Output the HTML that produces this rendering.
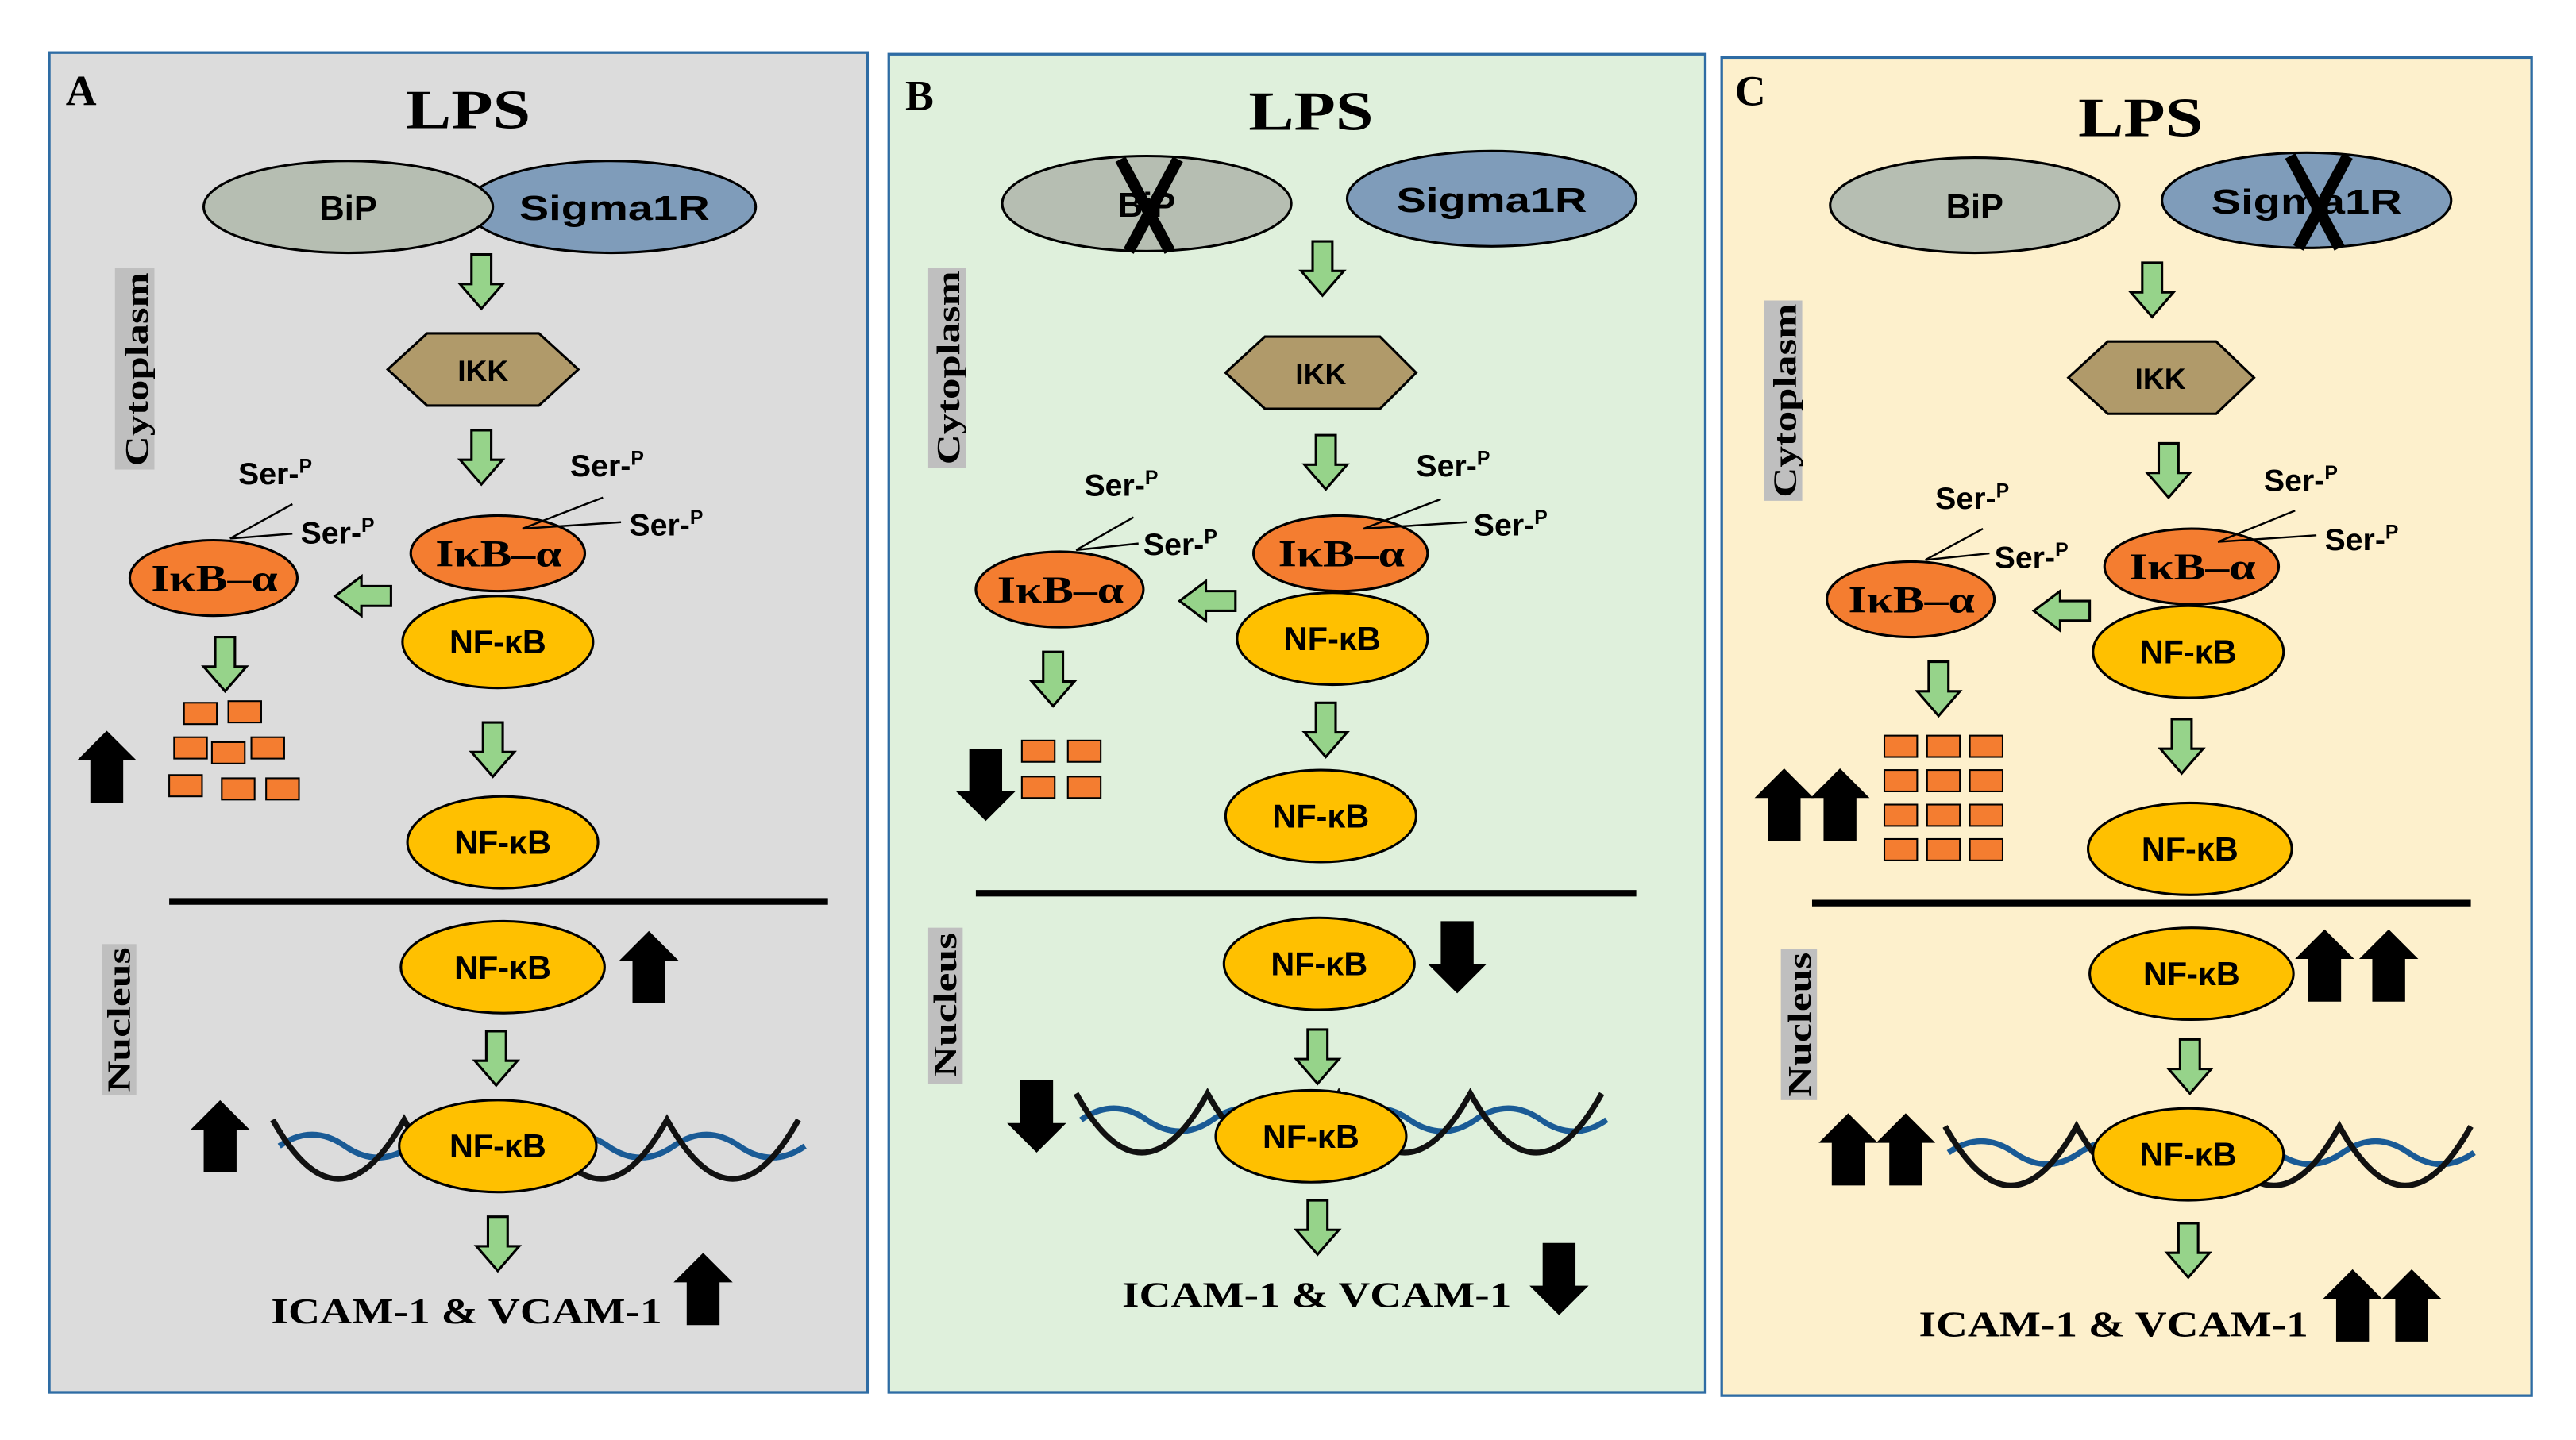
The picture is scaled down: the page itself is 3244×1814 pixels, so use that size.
<!DOCTYPE html>
<html><head><meta charset="utf-8"><style>
html,body{margin:0;padding:0;background:#fff;}
svg{display:block;}
.sans{font-family:"Liberation Sans","DejaVu Sans",sans-serif;font-weight:bold;}
.ser{font-family:"Liberation Serif","DejaVu Serif",serif;font-weight:bold;}
</style></head><body>
<svg width="3244" height="1814" viewBox="0 0 1568 877" preserveAspectRatio="none" xmlns="http://www.w3.org/2000/svg">
<defs>
<path id="gd" d="M-6,0 H6 V18 H13 L0,33 L-13,18 H-6 Z" fill="#96d38a" stroke="#000" stroke-width="1.5"/>
<path id="gl" d="M0,-6 V-12 L-16,0 L0,12 V6 H18 V-6 Z" fill="#96d38a" stroke="#000" stroke-width="1.5"/>
<path id="bu" d="M0,0 L18,18 H10 V44 H-10 V18 H-18 Z" fill="#000"/>
<path id="bd" d="M0,44 L18,26 H10 V0 H-10 V26 H-18 Z" fill="#000"/>
<rect id="br" width="20" height="13" fill="#f47d30" stroke="#000" stroke-width="1"/>
<path id="blk" d="M0,-18 q20,36 40,36 q20,0 40,-36 q20,36 40,36 q20,0 40,-36 q20,36 40,36 q20,0 40,-36 q20,36 40,36 q20,0 40,-36" fill="none" stroke="#111" stroke-width="3.5"/>
<path id="blu" d="M0,-4 q20,-14 40,0 t40,0 t40,0 t40,0 t40,0 t40,0 t40,0 t40,0" fill="none" stroke="#1a5b96" stroke-width="3.5"/>
</defs>
<rect width="1568" height="877" fill="#fff"/>
<rect x="30" y="32" width="498" height="816" fill="#dcdcdc" stroke="#2e6ca4" stroke-width="1.6"/>
<rect x="541" y="33" width="497" height="815" fill="#dff0dc" stroke="#2e6ca4" stroke-width="1.6"/>
<rect x="1048" y="35" width="493" height="815" fill="#fdf0cc" stroke="#2e6ca4" stroke-width="1.6"/>

<g stroke="#000" stroke-width="1.5">
<ellipse cx="372" cy="126" rx="88" ry="28" fill="#7f9cba"/>
<ellipse cx="212" cy="126" rx="88" ry="28" fill="#b6beb2"/>
<polygon points="236,225 260,203 328,203 352,225 328,247 260,247" fill="#b09a6a"/>
<ellipse cx="303" cy="337" rx="53" ry="23" fill="#f47d30"/>
<ellipse cx="303" cy="391" rx="58" ry="28" fill="#ffc000"/>
<ellipse cx="130" cy="352" rx="51" ry="23" fill="#f47d30"/>
<ellipse cx="306" cy="513" rx="58" ry="28" fill="#ffc000"/>
<ellipse cx="306" cy="589" rx="62" ry="28" fill="#ffc000"/>
<ellipse cx="698" cy="124" rx="88" ry="29" fill="#b6beb2"/>
<ellipse cx="908" cy="121" rx="88" ry="29" fill="#7f9cba"/>
<polygon points="746,227 770,205 840,205 862,227 840,249 770,249" fill="#b09a6a"/>
<ellipse cx="816" cy="337" rx="53" ry="23" fill="#f47d30"/>
<ellipse cx="811" cy="389" rx="58" ry="28" fill="#ffc000"/>
<ellipse cx="645" cy="359" rx="51" ry="23" fill="#f47d30"/>
<ellipse cx="804" cy="497" rx="58" ry="28" fill="#ffc000"/>
<ellipse cx="803" cy="587" rx="58" ry="28" fill="#ffc000"/>
<ellipse cx="1202" cy="125" rx="88" ry="29" fill="#b6beb2"/>
<ellipse cx="1404" cy="122" rx="88" ry="29" fill="#7f9cba"/>
<polygon points="1259,230 1283,208 1349,208 1372,230 1349,252 1283,252" fill="#b09a6a"/>
<ellipse cx="1334" cy="345" rx="53" ry="23" fill="#f47d30"/>
<ellipse cx="1332" cy="397" rx="58" ry="28" fill="#ffc000"/>
<ellipse cx="1163" cy="365" rx="51" ry="23" fill="#f47d30"/>
<ellipse cx="1333" cy="517" rx="62" ry="28" fill="#ffc000"/>
<ellipse cx="1334" cy="593" rx="62" ry="28" fill="#ffc000"/>
</g>

<g stroke="#000" stroke-width="1.2" fill="none">
<path d="M318,322 L367,303 M318,322 L378,318"/>
<path d="M140,328 L178,307 M140,328 L178,325"/>
<path d="M830,322 L877,304 M830,322 L893,318"/>
<path d="M655,335 L690,315 M655,335 L693,331"/>
<path d="M1350,330 L1397,311 M1350,330 L1410,326"/>
<path d="M1172,341 L1207,322 M1172,341 L1211,337"/>
</g>

<g stroke="#000" stroke-width="4">
<line x1="103" y1="549" x2="504" y2="549"/>
<line x1="594" y1="544" x2="996" y2="544"/>
<line x1="1103" y1="550" x2="1504" y2="550"/>
</g>

<use href="#blu" transform="translate(170,702)"/>
<use href="#blk" transform="translate(166,700)"/>
<use href="#blu" transform="translate(658,686)"/>
<use href="#blk" transform="translate(655,684)"/>
<use href="#blu" transform="translate(1186,706)"/>
<use href="#blk" transform="translate(1184,704)"/>

<g stroke="#000" stroke-width="1.5" fill="#ffc000">
<ellipse cx="303" cy="698" rx="60" ry="28"/>
<ellipse cx="798" cy="692" rx="58" ry="28"/>
<ellipse cx="1332" cy="703" rx="58" ry="28"/>
</g>

<use href="#gd" x="293" y="155"/><use href="#gd" x="293" y="262"/>
<use href="#gd" x="137" y="388"/><use href="#gd" x="300" y="440"/>
<use href="#gd" x="302" y="628"/><use href="#gd" x="303" y="741"/>
<use href="#gl" x="220" y="363"/>
<use href="#gd" x="805" y="147"/><use href="#gd" x="807" y="265"/>
<use href="#gd" x="641" y="397"/><use href="#gd" x="807" y="428"/>
<use href="#gd" x="802" y="627"/><use href="#gd" x="802" y="731"/>
<use href="#gl" x="734" y="366"/>
<use href="#gd" x="1310" y="160"/><use href="#gd" x="1320" y="270"/>
<use href="#gd" x="1180" y="403"/><use href="#gd" x="1328" y="438"/>
<use href="#gd" x="1333" y="633"/><use href="#gd" x="1332" y="745"/>
<use href="#gl" x="1254" y="372"/>

<use href="#br" x="112" y="428"/><use href="#br" x="139" y="427"/>
<use href="#br" x="106" y="449"/><use href="#br" x="129" y="452"/><use href="#br" x="153" y="449"/>
<use href="#br" x="103" y="472"/><use href="#br" x="135" y="474"/><use href="#br" x="162" y="474"/>
<use href="#br" x="622" y="451"/><use href="#br" x="650" y="451"/>
<use href="#br" x="622" y="473"/><use href="#br" x="650" y="473"/>
<use href="#br" x="1147" y="448"/><use href="#br" x="1173" y="448"/><use href="#br" x="1199" y="448"/>
<use href="#br" x="1147" y="469"/><use href="#br" x="1173" y="469"/><use href="#br" x="1199" y="469"/>
<use href="#br" x="1147" y="490"/><use href="#br" x="1173" y="490"/><use href="#br" x="1199" y="490"/>
<use href="#br" x="1147" y="511"/><use href="#br" x="1173" y="511"/><use href="#br" x="1199" y="511"/>

<use href="#bu" x="65" y="445"/><use href="#bu" x="395" y="567"/>
<use href="#bu" x="134" y="670"/><use href="#bu" x="428" y="763"/>
<use href="#bd" x="600" y="456"/><use href="#bd" x="887" y="561"/>
<use href="#bd" x="631" y="658"/><use href="#bd" x="949" y="757"/>
<use href="#bu" x="1086" y="468"/><use href="#bu" x="1120" y="468"/>
<use href="#bu" x="1415" y="566"/><use href="#bu" x="1454" y="566"/>
<use href="#bu" x="1125" y="678"/><use href="#bu" x="1160" y="678"/>
<use href="#bu" x="1432" y="773"/><use href="#bu" x="1468" y="773"/>

<rect x="70" y="163" width="24" height="123" fill="#bfbfbf"/>
<rect x="62" y="575" width="21" height="92" fill="#bfbfbf"/>
<rect x="565" y="163" width="23" height="122" fill="#bfbfbf"/>
<rect x="565" y="565" width="21" height="95" fill="#bfbfbf"/>
<rect x="1074" y="183" width="23" height="122" fill="#bfbfbf"/>
<rect x="1084" y="578" width="22" height="92" fill="#bfbfbf"/>
<g class="ser" font-size="20" text-anchor="middle" fill="#000">
<text transform="translate(90,225) rotate(-90)" textLength="118" lengthAdjust="spacingAndGlyphs">Cytoplasm</text>
<text transform="translate(79,621) rotate(-90)" textLength="88" lengthAdjust="spacingAndGlyphs">Nucleus</text>
<text transform="translate(584,224) rotate(-90)" textLength="118" lengthAdjust="spacingAndGlyphs">Cytoplasm</text>
<text transform="translate(582,612) rotate(-90)" textLength="88" lengthAdjust="spacingAndGlyphs">Nucleus</text>
<text transform="translate(1093,244) rotate(-90)" textLength="118" lengthAdjust="spacingAndGlyphs">Cytoplasm</text>
<text transform="translate(1102,624) rotate(-90)" textLength="88" lengthAdjust="spacingAndGlyphs">Nucleus</text>
</g>

<g class="ser" fill="#000">
<text x="40" y="64" font-size="26">A</text>
<text x="551" y="67" font-size="26">B</text>
<text x="1056" y="64" font-size="26">C</text>
<g font-size="34" text-anchor="middle">
<text x="285" y="78" textLength="76" lengthAdjust="spacingAndGlyphs">LPS</text>
<text x="798" y="79" textLength="76" lengthAdjust="spacingAndGlyphs">LPS</text>
<text x="1303" y="83" textLength="76" lengthAdjust="spacingAndGlyphs">LPS</text>
</g>
<g font-size="22">
<text x="165" y="806" textLength="238" lengthAdjust="spacingAndGlyphs">ICAM-1 &amp; VCAM-1</text>
<text x="683" y="796" textLength="237" lengthAdjust="spacingAndGlyphs">ICAM-1 &amp; VCAM-1</text>
<text x="1168" y="814" textLength="237" lengthAdjust="spacingAndGlyphs">ICAM-1 &amp; VCAM-1</text>
</g>
<g font-size="23">
<text x="265" y="345" textLength="77" lengthAdjust="spacingAndGlyphs">IκB–α</text>
<text x="92" y="360" textLength="77" lengthAdjust="spacingAndGlyphs">IκB–α</text>
<text x="778" y="345" textLength="77" lengthAdjust="spacingAndGlyphs">IκB–α</text>
<text x="607" y="367" textLength="77" lengthAdjust="spacingAndGlyphs">IκB–α</text>
<text x="1296" y="353" textLength="77" lengthAdjust="spacingAndGlyphs">IκB–α</text>
<text x="1125" y="373" textLength="77" lengthAdjust="spacingAndGlyphs">IκB–α</text>
</g>
</g>

<g class="sans" fill="#000" text-anchor="middle">
<g font-size="21">
<text x="212" y="134">BiP</text><text x="374" y="134" textLength="116" lengthAdjust="spacingAndGlyphs">Sigma1R</text>
<text x="698" y="132">BiP</text><text x="908" y="129" textLength="116" lengthAdjust="spacingAndGlyphs">Sigma1R</text>
<text x="1202" y="133">BiP</text><text x="1404" y="130" textLength="116" lengthAdjust="spacingAndGlyphs">Sigma1R</text>
</g>
<g font-size="18">
<text x="294" y="232">IKK</text><text x="804" y="234">IKK</text><text x="1315" y="237">IKK</text>
</g>
<g font-size="20">
<text x="303" y="398">NF-κB</text><text x="306" y="520">NF-κB</text><text x="306" y="596">NF-κB</text><text x="303" y="705">NF-κB</text>
<text x="811" y="396">NF-κB</text><text x="804" y="504">NF-κB</text><text x="803" y="594">NF-κB</text><text x="798" y="699">NF-κB</text>
<text x="1332" y="404">NF-κB</text><text x="1333" y="524">NF-κB</text><text x="1334" y="600">NF-κB</text><text x="1332" y="710">NF-κB</text>
</g>
</g>
<g class="sans" font-size="19" fill="#000">
<text x="145" y="295">Ser-<tspan font-size="12" dy="-7">P</tspan></text>
<text x="183" y="331">Ser-<tspan font-size="12" dy="-7">P</tspan></text>
<text x="347" y="290">Ser-<tspan font-size="12" dy="-7">P</tspan></text>
<text x="383" y="326">Ser-<tspan font-size="12" dy="-7">P</tspan></text>
<text x="660" y="302">Ser-<tspan font-size="12" dy="-7">P</tspan></text>
<text x="696" y="338">Ser-<tspan font-size="12" dy="-7">P</tspan></text>
<text x="862" y="290">Ser-<tspan font-size="12" dy="-7">P</tspan></text>
<text x="897" y="326">Ser-<tspan font-size="12" dy="-7">P</tspan></text>
<text x="1178" y="310">Ser-<tspan font-size="12" dy="-7">P</tspan></text>
<text x="1214" y="346">Ser-<tspan font-size="12" dy="-7">P</tspan></text>
<text x="1378" y="299">Ser-<tspan font-size="12" dy="-7">P</tspan></text>
<text x="1415" y="335">Ser-<tspan font-size="12" dy="-7">P</tspan></text>
</g>

<g stroke="#000" stroke-width="7" fill="none">
<path d="M682,97 L712,153 M717,97 L687,153"/>
<path d="M1394,95 L1424,151 M1429,95 L1399,151"/>
</g>
</svg>
</body></html>
